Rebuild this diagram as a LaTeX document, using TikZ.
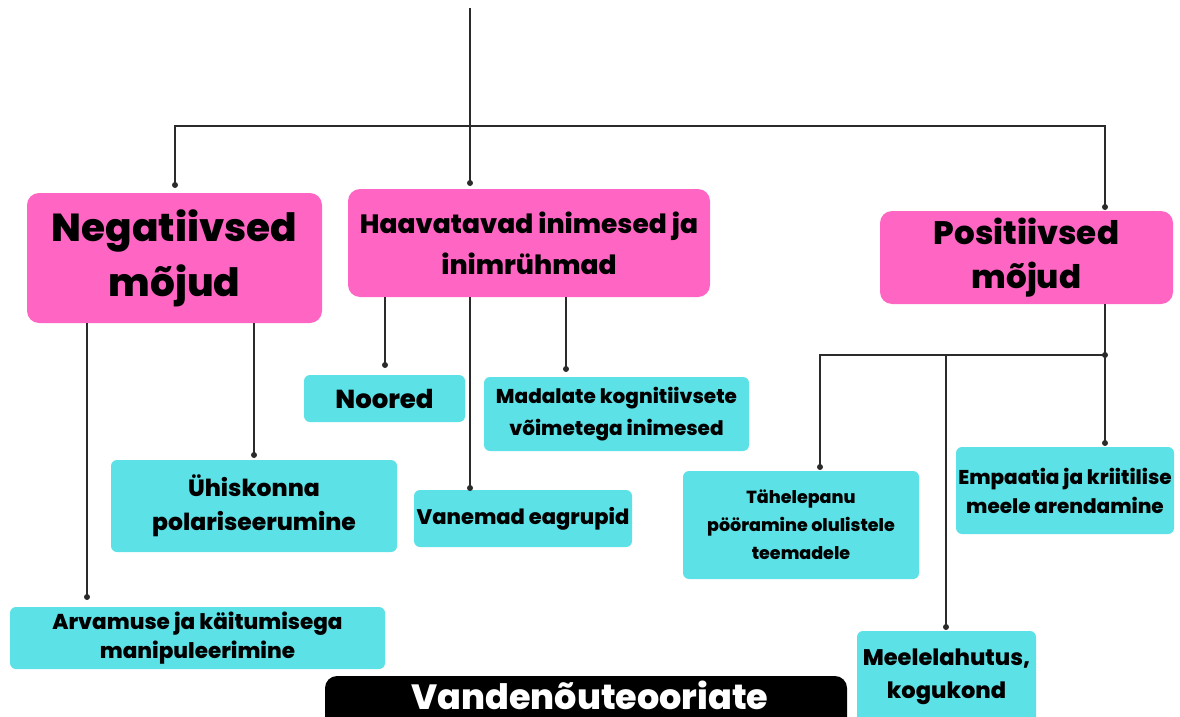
\documentclass[tikz,border=0pt]{standalone}
\usepackage{fontspec}
\setmainfont{Poppins}[BoldFont={* ExtraBold}]
\definecolor{canvapink}{HTML}{FF66C4}
\definecolor{canvacyan}{HTML}{5CE1E6}
\definecolor{linegray}{HTML}{2B2B2B}
\tikzset{
  pinkbox/.style={fill=canvapink, rounded corners=12pt, align=center, font=\bfseries, inner sep=0pt},
  cyanbox/.style={fill=canvacyan, rounded corners=6pt, align=center, font=\bfseries, inner sep=0pt},
  link/.style={draw=linegray, line width=1.6pt},
  enddot/.style={fill=linegray, circle, inner sep=0pt, minimum size=6pt}
}
\begin{document}
\begin{tikzpicture}[x=1pt,y=-1pt]
\useasboundingbox (0,0) rectangle (1180,717);
\clip (0,0) rectangle (1180,717);
% main boxes
\node[pinkbox, minimum width=295, minimum height=130, font=\fontsize{39}{55}\selectfont\bfseries] (neg) at (174.5,258) {Negatiivsed\\mõjud};
\node[pinkbox, minimum width=362, minimum height=108, font=\fontsize{26.5}{41}\selectfont\bfseries] (haav) at (529,243) {Haavatavad inimesed ja\\inimrühmad};
\node[pinkbox, minimum width=293, minimum height=93, font=\fontsize{32.5}{44}\selectfont\bfseries] (pos) at (1026.5,257.5) {Positiivsed\\mõjud};
% sub boxes
\node[cyanbox, minimum width=161, minimum height=47, font=\fontsize{26}{30}\selectfont\bfseries] (noored) at (384.5,398.5) {Noored};
\node[cyanbox, minimum width=265, minimum height=74, font=\fontsize{20}{32}\selectfont\bfseries] (madal) at (616.5,414) {Madalate kognitiivsete\\võimetega inimesed};
\node[cyanbox, minimum width=218, minimum height=57, font=\fontsize{21}{30}\selectfont\bfseries] (vanem) at (523,518.5) {Vanemad eagrupid};
\node[cyanbox, minimum width=286, minimum height=92, font=\fontsize{23.5}{34}\selectfont\bfseries] (yhis) at (254,506) {Ühiskonna\\polariseerumine};
\node[cyanbox, minimum width=375, minimum height=62, font=\fontsize{21.5}{29}\selectfont\bfseries] (arv) at (197.5,638) {Arvamuse ja käitumisega\\manipuleerimine};
\node[cyanbox, minimum width=236, minimum height=108, font=\fontsize{17.5}{28}\selectfont\bfseries] (tahel) at (801,525) {Tähelepanu\\pööramine olulistele\\teemadele};
\node[cyanbox, minimum width=218, minimum height=87, font=\fontsize{20}{29}\selectfont\bfseries] (empaat) at (1065,490.5) {Empaatia ja kriitilise\\meele arendamine};
\node[cyanbox, minimum width=179, minimum height=92, font=\fontsize{22.5}{33}\selectfont\bfseries] (meel) at (946.5,677) {Meelelahutus,\\kogukond};
% title bar, cut by the lower edge
\fill[black, rounded corners=12pt] (325,676) rectangle (847,750);
\node[text=white, inner sep=0pt, text depth=0pt, anchor=base, font=\fontsize{35}{36}\selectfont\bfseries] (title) at (590,709) {Vandenõuteooriate};
% dots
\coordinate (top) at (470,8);
\coordinate (bar) at (470,126);
\coordinate (d0) at (470,183);
\coordinate (dneg) at (175,185);
\coordinate (dpos) at (1105,207);
\coordinate (darv) at (87,597);
\coordinate (dyhis) at (254,455);
\coordinate (dnoor) at (385,365);
\coordinate (dvan) at (470,488);
\coordinate (dmad) at (566,369);
\coordinate (split) at (1105,355);
\coordinate (demp) at (1105,443);
\coordinate (dtah) at (820,467);
\coordinate (dmeel) at (946,627);
% connectors
\draw[link] (top) -- (d0);
\draw[link] (dneg) |- (bar) -| (dpos);
\draw[link] (darv |- neg.south) -- (darv);
\draw[link] (dyhis |- neg.south) -- (dyhis);
\draw[link] (dnoor |- haav.south) -- (dnoor);
\draw[link] (dvan |- haav.south) -- (dvan);
\draw[link] (dmad |- haav.south) -- (dmad);
\draw[link] (split |- pos.south) -- (demp);
\draw[link] (split) -| (dtah);
\draw[link] (dmeel |- split) -- (dmeel);
\foreach \p in {d0,dneg,dpos,darv,dyhis,dnoor,dvan,dmad,split,demp,dtah,dmeel}
  \node[enddot] at (\p) {};
\end{tikzpicture}
\end{document}
